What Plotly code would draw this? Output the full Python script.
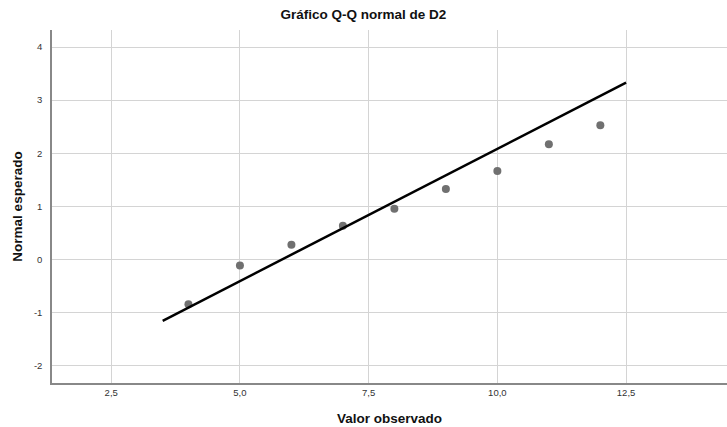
import plotly.graph_objects as go

observed = [4, 5, 6, 7, 8, 9, 10, 11, 12]
expected_normal = [-0.84, -0.11, 0.28, 0.64, 0.96, 1.33, 1.67, 2.17, 2.53]
line_x = [3.5, 12.5]
line_y = [-1.15, 3.33]
x_ticks = [2.5, 5.0, 7.5, 10.0, 12.5]
x_tick_labels = ["2,5", "5,0", "7,5", "10,0", "12,5"]
y_ticks = [-2, -1, 0, 1, 2, 3, 4]
y_tick_labels = ["-2", "-1", "0", "1", "2", "3", "4"]

FONT = "Liberation Sans, Arial, sans-serif"

fig = go.Figure()
fig.add_trace(go.Scatter(x=observed, y=expected_normal, mode="markers",
                         marker=dict(color="#707070", size=8), showlegend=False))
fig.add_trace(go.Scatter(x=line_x, y=line_y, mode="lines",
                         line=dict(color="black", width=2.5), showlegend=False))

fig.update_layout(
    width=727, height=427,
    margin=dict(l=52, r=0, t=30, b=44),
    paper_bgcolor="white", plot_bgcolor="white",
    title=dict(text="<b>Gráfico Q-Q normal de D2</b>", x=0.5, xanchor="center",
               y=1 - 14/427, yanchor="middle",
               font=dict(family=FONT, size=13.5, color="#111")),
    font=dict(family=FONT),
    xaxis=dict(range=[1.35, 14.46], tickvals=x_ticks, ticktext=x_tick_labels,
               showgrid=True, gridcolor="#d4d4d4", gridwidth=1,
               showline=True, linecolor="#888", linewidth=1.5,
               zeroline=False, ticks="", tickfont=dict(size=9.5, color="#333"),
               title=dict(text="<b>Valor observado</b>", standoff=16,
                          font=dict(family=FONT, size=13.5, color="#111"))),
    yaxis=dict(range=[-2.32, 4.32], tickvals=y_ticks, ticktext=y_tick_labels,
               showgrid=True, gridcolor="#d4d4d4", gridwidth=1,
               showline=True, linecolor="#888", linewidth=1.5,
               zeroline=False, ticks="", ticklabelstandoff=6,
               tickfont=dict(size=9.5, color="#333"),
               title=dict(text="<b>Normal esperado</b>", standoff=8,
                          font=dict(family=FONT, size=13.5, color="#111"))),
)

fig.write_html("out.html")
